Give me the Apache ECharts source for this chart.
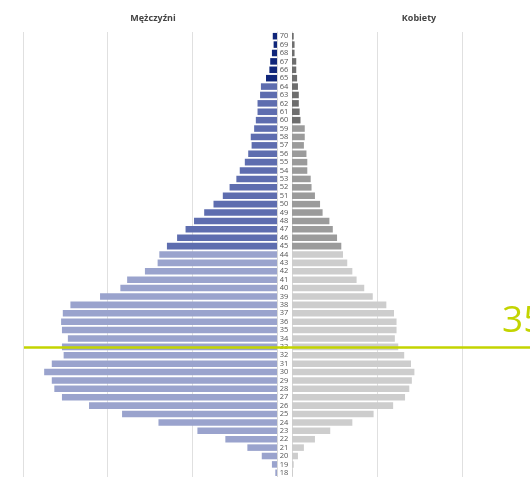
<!DOCTYPE html>
<html>
<head>
<meta charset="utf-8">
<script src="https://cdn.jsdelivr.net/npm/echarts@6/dist/echarts.min.js"></script>
<style>html,body{margin:0;padding:0;background:#fff;}#c{width:530px;height:477px;}</style>
</head>
<body>
<div id="c"></div>
<script>
// ages from 18 (bottom) to 70 (top)
var ages = ['18','19','20','21','22','23','24','25','26','27','28','29','30','31','32','33','34','35','36','37','38','39','40','41','42','43','44','45','46','47','48','49','50','51','52','53','54','55','56','57','58','59','60','61','62','63','64','65','66','67','68','69','70'];
// men (left), ages 18..70
var men = [0.02,0.06,0.18,0.35,0.61,0.94,1.40,1.83,2.22,2.54,2.63,2.66,2.75,2.66,2.52,2.54,2.47,2.54,2.55,2.53,2.44,2.09,1.85,1.77,1.56,1.41,1.39,1.30,1.18,1.08,0.98,0.86,0.75,0.64,0.56,0.48,0.44,0.38,0.34,0.30,0.31,0.27,0.25,0.23,0.23,0.20,0.19,0.13,0.09,0.08,0.06,0.04,0.05];
// women (right), ages 18..70
var women = [0.01,0.02,0.07,0.14,0.27,0.45,0.71,0.96,1.19,1.33,1.38,1.41,1.44,1.40,1.32,1.25,1.21,1.23,1.23,1.20,1.11,0.95,0.85,0.76,0.71,0.65,0.60,0.58,0.53,0.48,0.44,0.36,0.33,0.27,0.23,0.22,0.18,0.18,0.17,0.14,0.15,0.15,0.10,0.09,0.08,0.08,0.07,0.06,0.05,0.05,0.03,0.03,0.02];
var markAge = '33';
var markText = '35';
var headers = ['Mężczyźni', 'Kobiety'];

function menColor(age){ age = +age; return age >= 65 ? '#10267a' : (age >= 45 ? '#5e6daf' : '#9aa3cd'); }
function womenColor(age){ age = +age; return age >= 60 ? '#6e6e6e' : (age >= 45 ? '#9b9b9b' : '#cdcdcd'); }

var chart = echarts.init(document.getElementById('c'));
var font = 'Open Sans';
var split = {show:true, lineStyle:{color:'#e0e0e0', width:1}};
chart.setOption({
  animation:false,
  title:[
    {text:headers[0], left:148, top:9, textAlign:'center', textStyle:{fontFamily:font, fontSize:9, fontWeight:'bold', color:'#444'}},
    {text:headers[1], left:414, top:9, textAlign:'center', textStyle:{fontFamily:font, fontSize:9, fontWeight:'bold', color:'#444'}},
    {text:markText, left:497, top:298, textStyle:{fontFamily:font, fontSize:37, fontWeight:'normal', color:'#c3d400'}}
  ],
  grid:[
    {left:23, width:254, top:32, bottom:0, outerBoundsMode:'none', containLabel:false},
    {left:292, width:255, top:32, bottom:0, outerBoundsMode:'none', containLabel:false},
    {left:24, width:506, top:32, bottom:0, outerBoundsMode:'none', containLabel:false}
  ],
  xAxis:[
    {gridIndex:0, type:'value', min:0, max:3, interval:1, inverse:true, axisLabel:{show:false}, axisLine:{show:false}, axisTick:{show:false}, splitLine:split},
    {gridIndex:1, type:'value', min:0, max:3, interval:1, axisLabel:{show:false}, axisLine:{show:false}, axisTick:{show:false}, splitLine:split},
    {gridIndex:2, type:'value', min:0, max:1, show:false}
  ],
  yAxis:[
    {gridIndex:0, type:'category', data:ages, position:'right', axisLine:{show:true, lineStyle:{color:'#d8d8d8'}}, axisTick:{show:false}, axisLabel:{show:false}},
    {gridIndex:1, type:'category', data:ages, position:'left', axisLine:{show:true, lineStyle:{color:'#d8d8d8'}}, axisTick:{show:false},
      axisLabel:{show:true, interval:0, align:'center', margin:8, fontFamily:font, fontSize:7.5, color:'#555'}},
    {gridIndex:2, type:'category', data:ages, show:false}
  ],
  series:[
    {type:'bar', xAxisIndex:0, yAxisIndex:0, barCategoryGap:'22%',
      data: men.map(function(v,i){return {value:v, itemStyle:{color:menColor(ages[i])}};})},
    {type:'bar', xAxisIndex:1, yAxisIndex:1, barCategoryGap:'22%',
      data: women.map(function(v,i){return {value:v, itemStyle:{color:womenColor(ages[i])}};})},
    {type:'scatter', xAxisIndex:2, yAxisIndex:2, data:[], silent:true,
      markLine:{symbol:'none', silent:true, label:{show:false}, lineStyle:{color:'#c3d400', width:2.5, type:'solid'},
        data:[[{coord:[0, markAge]}, {coord:[1, markAge]}]]}}
  ]
});
</script>
</body>
</html>
